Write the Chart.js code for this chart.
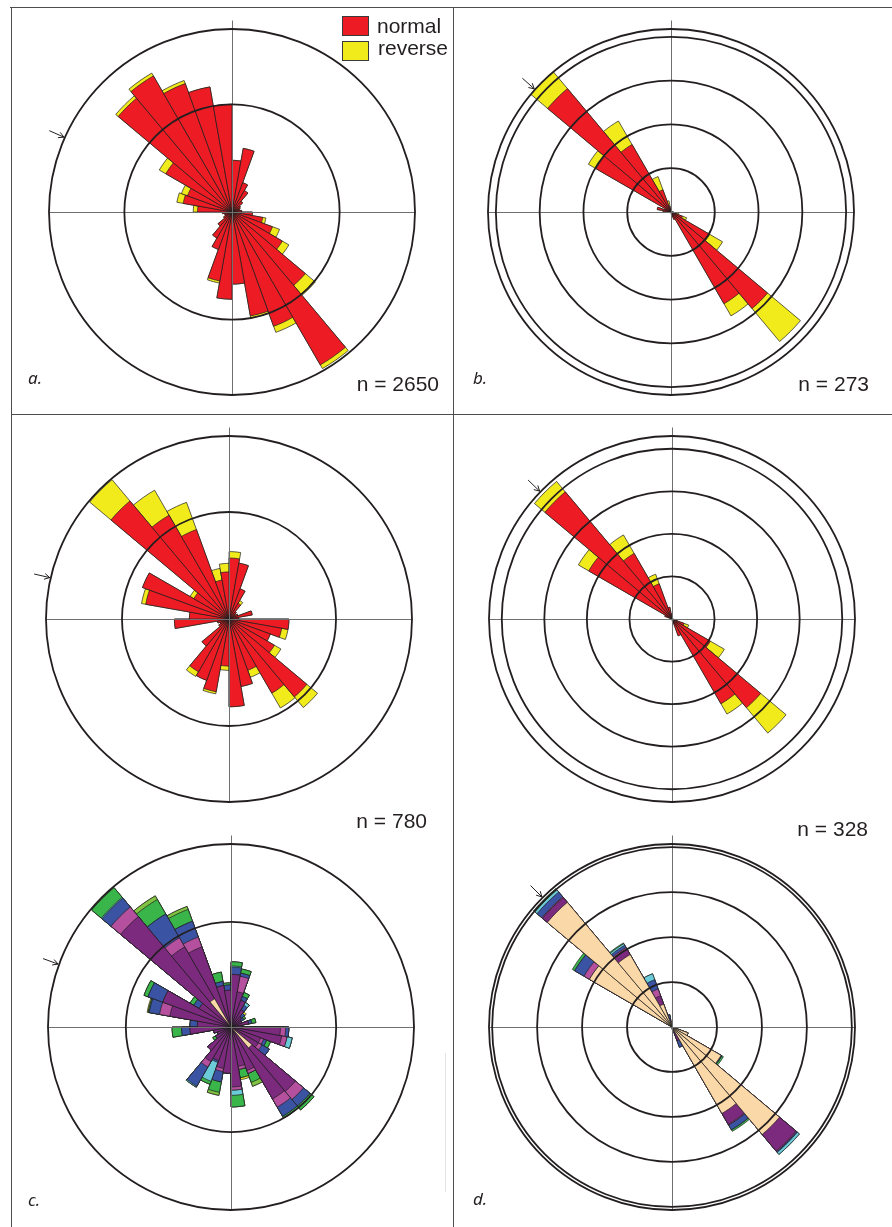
<!DOCTYPE html>
<html><head><meta charset="utf-8">
<script src="https://cdn.jsdelivr.net/npm/chart.js@4.4.1/dist/chart.umd.min.js"></script>
<style>
html,body{margin:0;padding:0;background:#fff;overflow:hidden;}
#fig{position:relative;width:892px;height:1227px;overflow:hidden;background:#fff;font-family:"Liberation Sans",Arial,sans-serif;color:#231f20;}
.ln{position:absolute;background:#4d4d4d;}
canvas{position:absolute;}
.t{position:absolute;white-space:nowrap;line-height:1;z-index:5;}
.n{font-size:21px;text-align:right;width:200px;}
.lab{font-family:"Noto Sans",sans-serif;font-style:italic;font-size:17px;}
.leg{font-size:21px;}
.sw{position:absolute;width:25px;height:18px;border:1px solid #3a3a3a;z-index:5;}
</style></head><body>
<div id="fig">
  <div class="ln" style="left:10px;top:7px;width:882px;height:1px;"></div>
  <div class="ln" style="left:11px;top:7px;width:1px;height:1220px;"></div>
  <div class="ln" style="left:453px;top:7px;width:1px;height:1220px;"></div>
  <div class="ln" style="left:11px;top:414px;width:881px;height:1px;"></div>
  <div class="ln" style="left:445px;top:1053px;width:1px;height:139px;background:#e4e4e4;"></div>

  <canvas id="ca" width="420" height="420" style="left:22px;top:2px;"></canvas>
  <canvas id="cb" width="420" height="420" style="left:461px;top:2px;"></canvas>
  <canvas id="cc" width="420" height="420" style="left:19px;top:409px;"></canvas>
  <canvas id="cd" width="420" height="420" style="left:462px;top:409px;"></canvas>
  <canvas id="ce" width="420" height="420" style="left:21px;top:817px;"></canvas>
  <canvas id="cf" width="420" height="420" style="left:462px;top:817px;"></canvas>

  <div class="sw" style="left:342px;top:16px;background:#ED1C24;"></div>
  <div class="sw" style="left:342px;top:41px;background:#F2EB1C;"></div>
  <div class="t leg" style="left:377px;top:14.5px;">normal</div>
  <div class="t leg" style="left:378px;top:37px;">reverse</div>

  <div class="t n" style="left:239px;top:373px;">n = 2650</div>
  <div class="t n" style="left:669px;top:373px;">n = 273</div>
  <div class="t n" style="left:227px;top:810px;">n = 780</div>
  <div class="t n" style="left:668px;top:818px;">n = 328</div>

  <div class="t lab" style="left:28px;top:369px;">a.</div>
  <div class="t lab" style="left:473px;top:369px;">b.</div>
  <div class="t lab" style="left:28px;top:1190.5px;">c.</div>
  <div class="t lab" style="left:473px;top:1190px;">d.</div>
</div>
<script>
// 10-degree azimuth bins, clockwise from north
const bins = ['0°','10°','20°','30°','40°','50°','60°','70°','80°','90°','100°','110°',
  '120°','130°','140°','150°','160°','170°','180°','190°','200°','210°','220°','230°',
  '240°','250°','260°','270°','280°','290°','300°','310°','320°','330°','340°','350°'];

// panel a
const aNormal  = [4.8,6.0,2.9,2.3,1.3,0.9, 0.8,0.7,0.9,1.9,2.9,4.0, 5.4,8.9,16.4,11.3,9.8,6.7, 8.1,6.5,3.7,2.8,1.7,0.9, 0.7,0.7,0.9,3.2,4.6,4.4, 7.1,13.8,14.6,12.7,11.8,10.0];
const aReverse = [0,0,0,0,0,0, 0,0,0,0,0.3,0.7, 0.7,1.2,0.4,0.6,0.2,0, 0,0.2,0,0,0,0, 0,0,0,0.4,0.6,0.6, 0.7,0.3,0.3,0.3,0,0];
const aRings = [0,10,17];
const aArrow = 294;

// panel b
const bNormal  = [0.2,0,0,0,0,0, 0,0,0,0.3,0.6,1.4, 5.1,14.4,12.1,0.9,0.5,0, 0,0,0,0,0,0, 0,0,0,0.9,1.6,0.7, 9.9,18.4,8.9,2.7,0.7,0.3];
const bReverse = [0,0,0,0,0,0, 0,0,0,0,0.3,0.5, 1.7,4.9,1.6,0,0,0, 0,0,0,0,0,0, 0,0,0,0,0,0, 1.0,2.5,3.1,1.6,0.6,0];
const bRings = [0,5,10,15,20,20.9];
const bArrow = 312;

// panel c (upper rose)
const cNormal  = [5.7,5.3,3.0,1.7,0.9,0.7, 0.9,2.2,0.9,5.6,5.0,4.1, 4.9,9.5,8.0,5.1,6.4,8.2, 4.4,6.9,6.1,5.7,3.3,1.1, 0.9,1.1,5.1,3.7,7.9,8.6, 3.8,14.4,11.2,8.9,3.7,4.4];
const cReverse = [0.6,0,0,0.3,0,0, 0,0,0,0,0.6,0, 0.7,1.3,1.6,0.7,0,0, 0.4,0.2,0,0.5,0,0, 0,0,0,0,0.4,0, 0.4,2.6,2.7,2.7,1.1,0.8];
const cRings = [0,10,17.1];
const cArrow = 283;

// panel d (upper rose)
const dNormal  = [0,0,0,0,0,0, 0,0,0,0,0.6,1.5, 5.2,13.6,11.5,2.1,0.5,0, 0,0,0,0,0,0, 0,0,0,0,0,0.9, 11.3,19.5,8.9,4.4,1.4,0.6];
const dReverse = [0,0,0,0,0,0, 0,0,0,0,0,0.6, 1.9,3.9,1.4,0,0,0, 0,0,0,0,0,0, 0,0,0,0,0,0, 1.4,1.6,2.5,1.2,0,0];
const dRings = [0,5,10,15,20,21.5];
const dArrow = 314;

// panel c (lower rose, coloured classes)
const cKinPeach  = [0,0,0,0,0,0, 0,0,0,0,0,0, 0,2.6,0,0,0,0, 0,0,0,0,0,0, 0,0,0,0,0,0, 0,0,3.1,0,0,0];
const cKinPurple = [5.0,3.4,2.7,1.9,1.3,1.1, 1.1,1.7,1.0,4.7,4.9,3.0, 3.0,5.4,7.9,4.4,3.8,5.7, 4.4,4.0,3.4,3.8,2.9,1.7, 1.4,1.7,3.9,3.2,5.9,6.9, 3.5,13.7,5.7,8.1,4.0,3.5];
const cKinPink   = [0,1.5,0,0,0,0, 0,0,0,0.5,0.5,0.3, 0.4,1.0,0.9,0.3,0.3,0.3, 0,0.3,0,0.6,0,0, 0,0,0,0,1.0,0, 0,1.2,1.0,1.0,0,0];
const cKinBlue   = [0.7,0.3,0.4,0.5,0.4,0.3, 0,0.3,0,0.3,0,0.3, 0.8,0.8,1.0,0,0,0, 0,1.0,0.2,2.1,0,0, 0,0,0.8,0.7,1.0,1.5, 0.6,1.1,2.6,1.6,0.4,0.5];
const cKinCyan   = [0.1,0,0,0.3,0,0, 0,0,0,0,0.5,0, 0,0,0,0,0,0.5, 0,0,1.9,0.1,0,0, 0,0,0,0,0,0, 0,0.1,0,0,0,0];
const cKinGreen  = [0.4,0.4,0.4,0,0,0.2, 0,0.4,0,0,0,0.4, 0,0.5,0.2,0.9,0.8,1.1, 0,1.0,0.3,0,0,0.3, 0,0,0.9,0,0.1,0.4, 0.4,1.2,1.6,1.2,0.9,0.2];
const cKinLime   = [0,0,0,0,0,0, 0,0,0,0,0,0, 0,0,0,0.4,0,0, 0,0.3,0,0,0,0, 0,0,0,0,0,0, 0,0,0.4,0.3,0,0];
const cKinYellow = [0,0,0,0,0.2,0, 0,0,0,0,0,0, 0,0,0,0,0.2,0, 0,0,0,0,0,0, 0,0,0,0,0.1,0, 0,0,0,0,0,0];
const eRings = [0,10,17.4];
const eArrow = 290;

// panel d (lower rose, coloured classes)
const dKinPeach  = [0,0,0,0,0,0, 0,0,0,0,0,1.9, 6.3,15.6,11.1,0.6,0.5,0, 0,0,0,0,0,0, 0,0,0,0,0,0, 10.6,18.1,9.3,2.7,0.6,0.6];
const dKinPurple = [0,0,0,0,0,0, 0,0,0,0,0,0, 0,2.4,1.4,1.0,0,0, 0,0,0,0,0,0, 0,0,0,0,0,0, 0,0.7,0.7,1.0,0,0];
const dKinPink   = [0,0,0,0,0,0, 0,0,0,0,0,0, 0,0.1,0.1,0,0,0, 0,0,0,0,0,0, 0,0,0,0,0,0, 0.7,0.1,0.2,0.8,0,0];
const dKinBlue   = [0,0,0,0,0,0, 0,0,0,0,0,0, 0.1,0.1,0.6,0.8,0,0, 0,0,0,0,0,0, 0,0,0,0,0,0, 1.2,0.7,0.3,1.1,0.8,0];
const dKinCyan   = [0,0,0,0,0,0, 0,0,0,0,0,0, 0,0.3,0,0,0,0, 0,0,0,0,0,0, 0,0,0,0,0,0, 0,0.3,0.2,0.7,0,0];
const dKinGreen  = [0,0,0,0,0,0, 0,0,0,0,0,0, 0.2,0,0.2,0,0,0, 0,0,0,0,0,0, 0,0,0,0,0,0, 0.3,0.2,0.1,0,0,0];
const fRings = [0,5,10,15,20,20.35];
const fArrow = 315;

const RED = '#ED1C24', YEL = '#F2EB1C';
const PEACH = '#FBD8A8', PURPLE = '#7B2A7E', PINK = '#B4509D', BLUE = '#3A53A3',
      CYAN = '#6BCBD8', GREEN = '#39B54A', LIME = '#80C342';

const rosePlugin = {
  id: 'roseDeco',
  afterDatasetsDraw(chart, args, opts) {
    const s = chart.scales.r, ctx = chart.ctx;
    const cx = s.xCenter + 0.5, cy = s.yCenter + 0.5, R = s.drawingArea;
    ctx.save();
    ctx.strokeStyle = '#707070';
    ctx.lineWidth = 1;
    ctx.beginPath();
    ctx.moveTo(cx - R, cy); ctx.lineTo(cx + R, cy);
    ctx.moveTo(cx, cy - R - 9); ctx.lineTo(cx, cy + R);
    ctx.stroke();
    ctx.restore();
  },
  afterDraw(chart, args, opts) {
    const s = chart.scales.r, ctx = chart.ctx;
    const R = s.drawingArea;
    const th = opts.arrowAz * Math.PI / 180;
    const ux = Math.sin(th), uy = -Math.cos(th);
    const tx = s.xCenter + ux * (R + 1), ty = s.yCenter + uy * (R + 1);
    const sx = s.xCenter + ux * (R + 17), sy = s.yCenter + uy * (R + 17);
    ctx.save();
    ctx.strokeStyle = '#231f20';
    ctx.lineWidth = 1;
    ctx.beginPath();
    ctx.moveTo(sx, sy); ctx.lineTo(tx, ty);
    const a = 0.5, L = 6;
    for (const sg of [-1, 1]) {
      const c = Math.cos(sg * a), sn = Math.sin(sg * a);
      const vx = ux * c - uy * sn, vy = ux * sn + uy * c;
      ctx.moveTo(tx, ty); ctx.lineTo(tx + vx * L, ty + vy * L);
    }
    ctx.stroke();
    ctx.restore();
  }
};

function makeRose(id, layers, colors, rings, arrowAz) {
  const datasets = [];
  let run = bins.map(() => 0);
  layers.forEach((layer, k) => {
    run = run.map((v, i) => Math.round((v + layer[i]) * 1000) / 1000);
    datasets.push({ data: run, backgroundColor: colors[k], borderColor: '#1e1e1e', borderWidth: 0.7 });
  });
  new Chart(document.getElementById(id), {
    type: 'polarArea',
    data: { labels: bins, datasets },
    options: {
      responsive: false,
      animation: false,
      devicePixelRatio: 1,
      events: [],
      layout: { padding: 27 },
      plugins: { legend: { display: false }, tooltip: { enabled: false }, roseDeco: { arrowAz } },
      scales: {
        r: {
          min: 0,
          max: rings[rings.length - 1],
          startAngle: 0,
          ticks: { display: false },
          grid: { circular: true, color: '#231f20', lineWidth: 1.8, z: 1 },
          angleLines: { display: false },
          pointLabels: { display: false },
          afterBuildTicks: (scale) => { scale.ticks = rings.map(v => ({ value: v })); }
        }
      }
    },
    plugins: [rosePlugin]
  });
}

makeRose('ca', [aNormal, aReverse], [RED, YEL], aRings, aArrow);
makeRose('cb', [bNormal, bReverse], [RED, YEL], bRings, bArrow);
makeRose('cc', [cNormal, cReverse], [RED, YEL], cRings, cArrow);
makeRose('cd', [dNormal, dReverse], [RED, YEL], dRings, dArrow);
makeRose('ce', [cKinPeach, cKinPurple, cKinPink, cKinBlue, cKinCyan, cKinGreen, cKinLime, cKinYellow],
  [PEACH, PURPLE, PINK, BLUE, CYAN, GREEN, LIME, YEL], eRings, eArrow);
makeRose('cf', [dKinPeach, dKinPurple, dKinPink, dKinBlue, dKinCyan, dKinGreen],
  [PEACH, PURPLE, PINK, BLUE, CYAN, GREEN], fRings, fArrow);
</script>
</body></html>
